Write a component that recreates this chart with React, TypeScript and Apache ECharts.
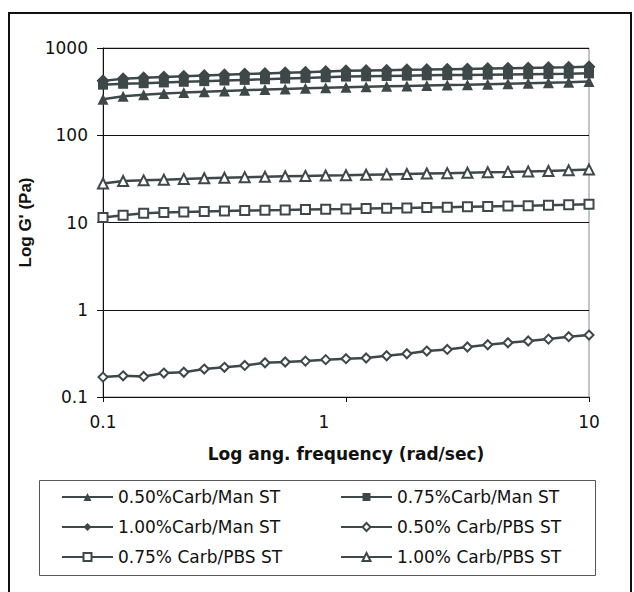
import React, { useEffect, useRef } from 'react';
import * as echarts from 'echarts';

const frequencies = [0.1, 0.121, 0.147, 0.178, 0.215, 0.261, 0.316, 0.383, 0.464, 0.562, 0.681, 0.825, 1, 1.21, 1.47, 1.78, 2.15, 2.61, 3.16, 3.83, 4.64, 5.62, 6.81, 8.25, 10];

const seriesNames = [
  '0.50%Carb/Man ST',
  '0.75%Carb/Man ST',
  '1.00%Carb/Man ST',
  '0.50% Carb/PBS ST',
  '0.75% Carb/PBS ST',
  '1.00% Carb/PBS ST',
];

const carb050Man = [258, 280, 291, 300, 308, 315, 322, 328, 334, 340, 346, 351, 356, 360, 364, 368, 372, 376, 380, 385, 390, 395, 400, 405, 412];
const carb075Man = [380, 389, 395, 403, 410, 417, 424, 431, 438, 446, 454, 462, 470, 474, 478, 482, 486, 489, 492, 495, 498, 501, 504, 507, 512];
const carb100Man = [420, 443, 456, 466, 475, 484, 493, 502, 511, 520, 529, 538, 547, 552, 557, 562, 566, 571, 576, 581, 586, 591, 596, 602, 610];
const carb050PBS = [0.169, 0.175, 0.172, 0.188, 0.192, 0.209, 0.219, 0.23, 0.247, 0.252, 0.258, 0.268, 0.275, 0.28, 0.297, 0.313, 0.336, 0.351, 0.374, 0.397, 0.419, 0.438, 0.461, 0.491, 0.513];
const carb075PBS = [11.4, 12.1, 12.8, 13.0, 13.2, 13.4, 13.55, 13.7, 13.8, 13.9, 14.05, 14.2, 14.3, 14.45, 14.6, 14.7, 14.85, 15.0, 15.15, 15.3, 15.45, 15.6, 15.8, 16.0, 16.2];
const carb100PBS = [28, 29.9, 30.4, 31, 31.6, 32.1, 32.6, 33.1, 33.5, 33.9, 34.2, 34.5, 34.8, 35.2, 35.6, 36, 36.4, 36.8, 37.2, 37.6, 38, 38.5, 39, 39.6, 40.4];

const xTickLabels = ['0.1', '1', '10'];
const yTickLabels = ['0.1', '1', '10', '100', '1000'];

const INK = '#3e4848';
const TEXT = '#111111';

function pair(values: number[]) {
  return frequencies.map((f, i) => [f, values[i]]);
}

function makeSeries(name: string, values: number[], symbol: string, size: number, hollow: boolean) {
  return {
    name,
    type: 'line',
    data: pair(values),
    symbol,
    symbolSize: size,
    showSymbol: true,
    lineStyle: { color: INK, width: 2.5 },
    itemStyle: hollow
      ? { color: '#ffffff', borderColor: INK, borderWidth: 2 }
      : { color: INK, borderColor: INK, borderWidth: 0 },
    emphasis: { disabled: true },
  };
}

export default function App() {
  const ref = useRef<HTMLDivElement>(null);

  useEffect(() => {
    if (!ref.current) return;
    const chart = echarts.init(ref.current, undefined, { renderer: 'svg' });

    const fmt = (labels: string[]) => (v: number) => {
      const s = labels.find((l) => Math.abs(parseFloat(l) - v) < 1e-6 * Math.max(1, v));
      return s ?? String(v);
    };

    const legendText = { fontSize: 17, color: TEXT, lineHeight: 20, fontFamily: 'DejaVu Sans' };

    const option = {
      animation: false,
      textStyle: { fontFamily: 'DejaVu Sans' },
      graphic: [
        {
          type: 'rect',
          shape: { x: 9, y: 13, width: 622, height: 620 },
          style: { fill: 'none', stroke: '#111', lineWidth: 2 },
          z: -10,
          silent: true,
        },
        {
          type: 'rect',
          shape: { x: 39.5, y: 480.5, width: 556, height: 95 },
          style: { fill: 'none', stroke: '#555', lineWidth: 1 },
          z: -10,
          silent: true,
        },
      ],
      grid: {
        left: 103,
        top: 48,
        width: 486,
        height: 349,
        show: true,
        borderColor: '#8a8a8a',
        borderWidth: 1,
        backgroundColor: 'transparent',
      },
      xAxis: {
        type: 'log',
        logBase: 10,
        min: 0.1,
        max: 10,
        splitNumber: 2,
        name: 'Log ang. frequency (rad/sec)',
        nameLocation: 'middle',
        nameGap: 48,
        nameTextStyle: { fontSize: 17, fontWeight: 'bold', color: TEXT, fontFamily: 'DejaVu Sans' },
        axisLine: { show: true, lineStyle: { color: TEXT, width: 1 } },
        axisTick: { show: true, inside: false, length: 5, lineStyle: { color: TEXT } },
        minorTick: { show: false },
        splitLine: { show: false },
        axisLabel: {
          fontSize: 17,
          color: TEXT,
          margin: 16,
          formatter: (v: number) => {
            const s = fmt(xTickLabels)(v);
            return s === '1' ? '{sh|' + s + '}' : s;
          },
          rich: {
            sh: { fontSize: 17, color: TEXT, padding: [0, 44, 0, 0], fontFamily: 'DejaVu Sans' },
          },
        },
      },
      yAxis: {
        type: 'log',
        logBase: 10,
        min: 0.1,
        max: 1000,
        splitNumber: 4,
        name: "Log G' (Pa)",
        nameLocation: 'middle',
        nameGap: 58,
        nameRotate: 90,
        nameTextStyle: { fontSize: 17, fontWeight: 'bold', color: TEXT, fontFamily: 'Liberation Sans' },
        axisLine: { show: true, lineStyle: { color: TEXT, width: 1 } },
        axisTick: { show: true, inside: false, length: 6, lineStyle: { color: TEXT } },
        minorTick: { show: false },
        splitLine: { show: true, lineStyle: { color: TEXT, width: 1 } },
        axisLabel: { fontSize: 17, color: TEXT, margin: 15, formatter: fmt(yTickLabels) },
      },
      legend: [
        {
          data: [seriesNames[0], seriesNames[2], seriesNames[4]],
          orient: 'vertical',
          left: 61,
          top: 487,
          padding: 0,
          itemWidth: 51,
          itemHeight: 10,
          itemGap: 10,
          selectedMode: false,
          textStyle: legendText,
        },
        {
          data: [seriesNames[1], seriesNames[3], seriesNames[5]],
          orient: 'vertical',
          left: 340,
          top: 487,
          padding: 0,
          itemWidth: 51,
          itemHeight: 10,
          itemGap: 10,
          selectedMode: false,
          textStyle: legendText,
        },
      ],
      series: [
        makeSeries(seriesNames[0], carb050Man, 'triangle', 11, false),
        makeSeries(seriesNames[1], carb075Man, 'rect', 10, false),
        makeSeries(seriesNames[2], carb100Man, 'diamond', 13, false),
        makeSeries(seriesNames[3], carb050PBS, 'diamond', 9, true),
        makeSeries(seriesNames[4], carb075PBS, 'rect', 9, true),
        makeSeries(seriesNames[5], carb100PBS, 'triangle', 10, true),
      ],
    };

    chart.setOption(option as any);
    return () => {
      chart.dispose();
    };
  }, []);

  return (
    <div
      ref={ref}
      style={{ position: 'absolute', left: 0, top: 0, width: 634, height: 592, background: '#ffffff' }}
    />
  );
}
